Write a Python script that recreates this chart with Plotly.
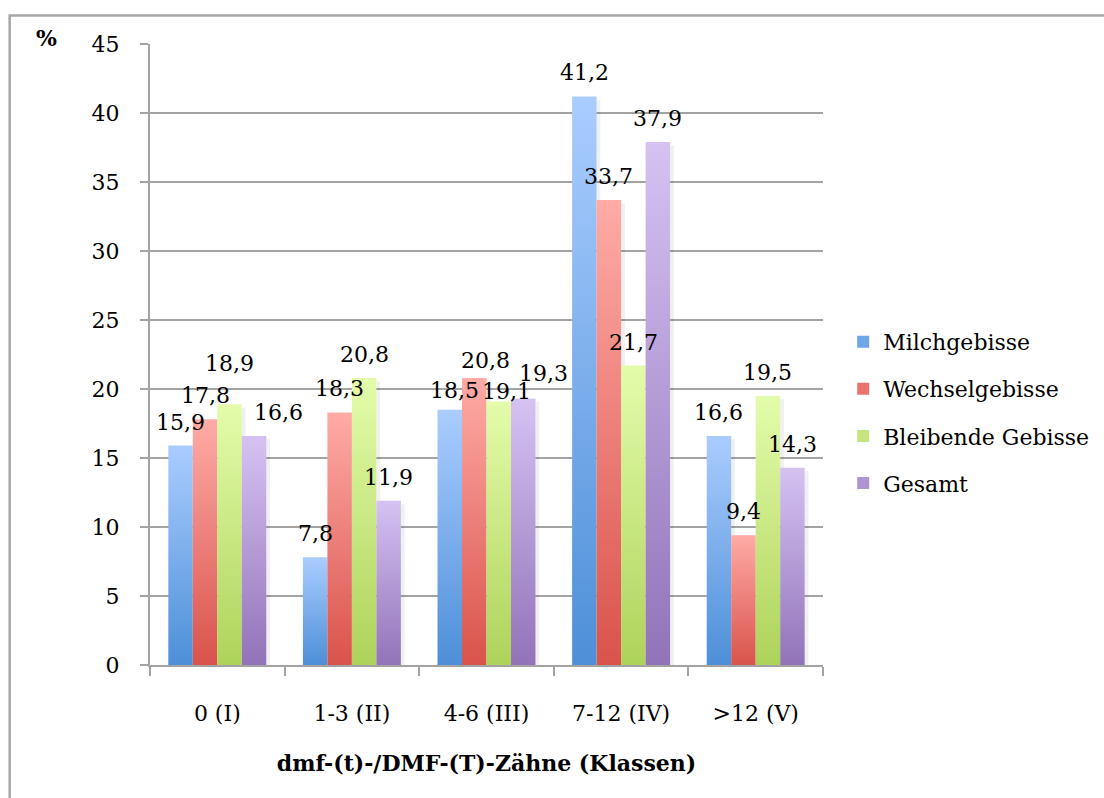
import plotly.graph_objects as go

# Data
categories = ["0 (I)", "1-3 (II)", "4-6 (III)", "7-12 (IV)", ">12 (V)"]
series_names = ["Milchgebisse", "Wechselgebisse", "Bleibende Gebisse", "Gesamt"]
milchgebisse = [15.9, 7.8, 18.5, 41.2, 16.6]
wechselgebisse = [17.8, 18.3, 20.8, 33.7, 9.4]
bleibende_gebisse = [18.9, 20.8, 19.1, 21.7, 19.5]
gesamt = [16.6, 11.9, 19.3, 37.9, 14.3]
y_tick_values = [0, 5, 10, 15, 20, 25, 30, 35, 40, 45]
x_axis_title = "dmf-(t)-/DMF-(T)-Zähne (Klassen)"
y_unit_label = "%"

series_values = [milchgebisse, wechselgebisse, bleibende_gebisse, gesamt]

# Gradient colours per series: (bottom, top) plus a flat legend key colour
palette = [
    ("#4d8fd8", "#aacdff", "#6ea6e8"),
    ("#d9534b", "#ffaba6", "#ea746d"),
    ("#aed35a", "#e4fcab", "#c6e57e"),
    ("#9273b9", "#d5c2f2", "#ae94d3"),
]

# hand-placed label offsets in pixels (series index, category index) -> (dx, dy)
label_nudges = {
    (2, 0): (0, 17),
    (3, 0): (24, 0),
    (0, 2): (5, -4),
    (1, 2): (11, -6),
    (2, 2): (8, -14),
    (3, 2): (20, 2),
}

FONT = "DejaVu Serif"
GRID = "#a3a3a3"
BAR_W = 0.182  # bar width in category units

fig = go.Figure()

# legend keys
for s, name in enumerate(series_names):
    fig.add_trace(go.Bar(
        x=[None], y=[None], name=name, legendgroup=name,
        marker=dict(color=palette[s][2], line=dict(width=0)),
        showlegend=True, hoverinfo="skip",
    ))

def bar_left(cat_idx, series_idx):
    return cat_idx + 0.5 - 2 * BAR_W + series_idx * BAR_W

for s, name in enumerate(series_names):
    vals = series_values[s]
    # soft shadow on the right side of each bar
    sx, sy = [], []
    for i, v in enumerate(vals):
        r = bar_left(i, s) + BAR_W
        sx += [r, r, r + 0.028, r + 0.028, r, None]
        sy += [0, v - 0.25, v - 0.25, 0, 0, None]
    fig.add_trace(go.Scatter(
        x=sx, y=sy, mode="lines", fill="toself", line=dict(width=0),
        fillcolor="rgba(0,0,0,0.06)", legendgroup=name, showlegend=False,
        hoverinfo="skip",
    ))
    # one gradient-filled rectangle per bar
    for i, v in enumerate(vals):
        l = bar_left(i, s)
        r = l + BAR_W
        fig.add_trace(go.Scatter(
            x=[l, l, r, r, l], y=[0, v, v, 0, 0],
            mode="lines", fill="toself", line=dict(width=0),
            fillgradient=dict(
                type="vertical", start=0, stop=v,
                colorscale=[[0, palette[s][0]], [1, palette[s][1]]],
            ),
            legendgroup=name, showlegend=False,
            hovertemplate=f"{name}<br>{categories[i]}: %{{y}}<extra></extra>",
        ))

# value labels above bars
annotations = []
for s, vals in enumerate(series_values):
    for i, v in enumerate(vals):
        dx, dy = label_nudges.get((s, i), (0, 0))
        annotations.append(dict(
            x=bar_left(i, s) + BAR_W / 2, y=v, xref="x", yref="y",
            text=f"{v:.1f}".replace(".", ","), showarrow=False,
            xanchor="center", yanchor="bottom", xshift=dx, yshift=9 + dy,
            font=dict(family=FONT, size=22, color="#000000"),
        ))

annotations.append(dict(
    x=-0.1545, y=1.0097, xref="paper", yref="paper", text=f"<b>{y_unit_label}</b>",
    showarrow=False, xanchor="center", yanchor="middle",
    font=dict(family=FONT, size=22, color="#000000"),
))

fig.update_layout(
    width=1104, height=798,
    margin=dict(l=150, r=281, t=44, b=133, autoexpand=False),
    paper_bgcolor="white", plot_bgcolor="white",
    separators=",.",
    font=dict(family=FONT, size=22, color="#000000"),
    showlegend=True,
    legend=dict(
        x=1.03, y=0.554, xanchor="left", yanchor="top",
        traceorder="grouped", tracegroupgap=15.5,
        font=dict(family=FONT, size=22, color="#000000"),
        bgcolor="rgba(0,0,0,0)",
    ),
    annotations=annotations,
    shapes=[dict(
        type="rect", xref="paper", yref="paper",
        x0=-0.2085, y0=-1.0, x1=2.0, y1=1.046,
        line=dict(color="#a6a6a6", width=2.5), fillcolor="rgba(0,0,0,0)",
        layer="below",
    )],
)

fig.update_xaxes(
    range=[0, 5], showgrid=False, zeroline=False,
    showline=True, linecolor=GRID, linewidth=2,
    tickmode="array", tickvals=[i + 0.5 for i in range(len(categories))],
    ticktext=categories, ticks="", ticklabelstandoff=28,
    tickfont=dict(family=FONT, size=22, color="#000000"),
    minor=dict(
        tickmode="array", tickvals=list(range(len(categories) + 1)),
        ticks="outside", ticklen=9, tickwidth=2, tickcolor=GRID, showgrid=False,
    ),
    title=dict(text=f"<b>{x_axis_title}</b>", standoff=30,
               font=dict(family=FONT, size=22, color="#000000")),
    fixedrange=True,
)

fig.update_yaxes(
    range=[0, 45], tickmode="array", tickvals=y_tick_values,
    showgrid=True, gridcolor=GRID, gridwidth=2,
    zeroline=False, showline=True, linecolor=GRID, linewidth=2,
    ticks="outside", ticklen=8, tickwidth=2, tickcolor=GRID,
    ticklabelstandoff=16,
    tickfont=dict(family=FONT, size=22, color="#000000"),
    fixedrange=True,
)

fig.write_html("out.html")
